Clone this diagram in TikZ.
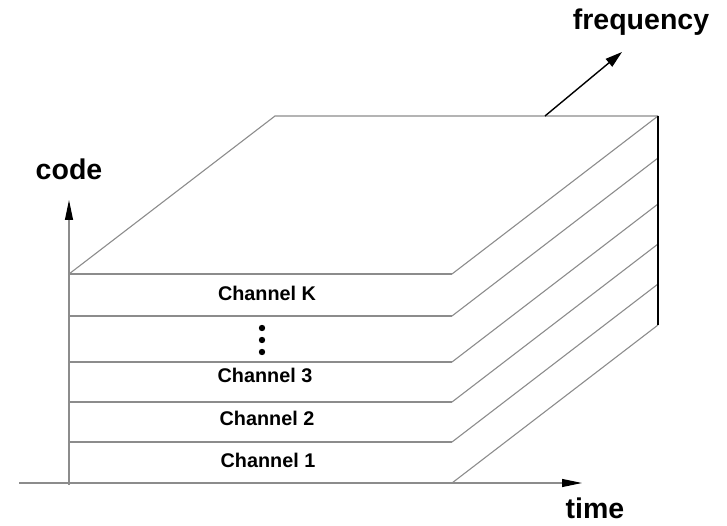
\documentclass[tikz,border=0pt]{standalone}
\usepackage{fontspec}
\setmainfont{Liberation Sans}
\usetikzlibrary{arrows.meta}
\begin{document}
\begin{tikzpicture}[x=1pt,y=-1pt,
  edge/.style={draw=black!45, line width=1.1pt},
  axis/.style={draw=black!45, line width=1.1pt, -{Triangle[length=20pt,width=8pt,color=black]}},
  freqarrow/.style={draw=black, line width=1.4pt, -{Triangle[length=17pt,width=10pt]}},
  backedge/.style={draw=black, line width=2pt},
  lbl/.style={font=\fontsize{28.5}{30}\selectfont\bfseries, inner sep=0pt, anchor=base},
  chan/.style={font=\fontsize{19.8}{22}\selectfont\bfseries, inner sep=0pt, anchor=base},
  dotnode/.style={circle, fill=black, inner sep=0pt, minimum size=6.4pt}]
\useasboundingbox (0,0) rectangle (727,526);
% front left/right corners of each layer
\foreach \i/\y in {0/274,1/316,2/362,3/402,4/442,5/483}{
  \coordinate (fl\i) at (69,\y);
  \coordinate (fr\i) at (452,\y);
  \coordinate (br\i) at (658,\y-158);
}
\coordinate (bl0) at (275,116);
% axes
\coordinate (vstart) at (69,485);
\coordinate (vtip) at (69,200);
\coordinate (hstart) at (19,483);
\coordinate (htip) at (582,483);
\draw[axis] (vstart) -- (vtip);
\draw[axis] (hstart) -- (htip);
% top face
\draw[edge] (fl0) -- (bl0) -- (br0);
% layer lines
\foreach \i in {0,...,4}{\draw[edge] (fl\i) -- (fr\i);}
\foreach \i in {0,...,5}{\draw[edge] (fr\i) -- (br\i);}
% back vertical edge
\draw[backedge] (br0) -- (br5);
% frequency arrow
\coordinate (fstart) at (545,116);
\coordinate (ftip) at (622,52);
\draw[freqarrow] (fstart) -- (ftip);
% labels
\node[lbl] (code) at (69,180) {code};
\node[lbl] (freq) at (641,30) {frequency};
\node[lbl] (time) at (595,518) {time};
\node[chan] (chK) at (267,300.5) {Channel K};
\node[chan] (ch3) at (265,382.5) {Channel 3};
\node[chan] (ch2) at (267,425.5) {Channel 2};
\node[chan] (ch1) at (268,467) {Channel 1};
\node[dotnode] (d1) at (262,328) {};
\node[dotnode] (d2) at (262,340) {};
\node[dotnode] (d3) at (262,352) {};
\end{tikzpicture}
\end{document}
